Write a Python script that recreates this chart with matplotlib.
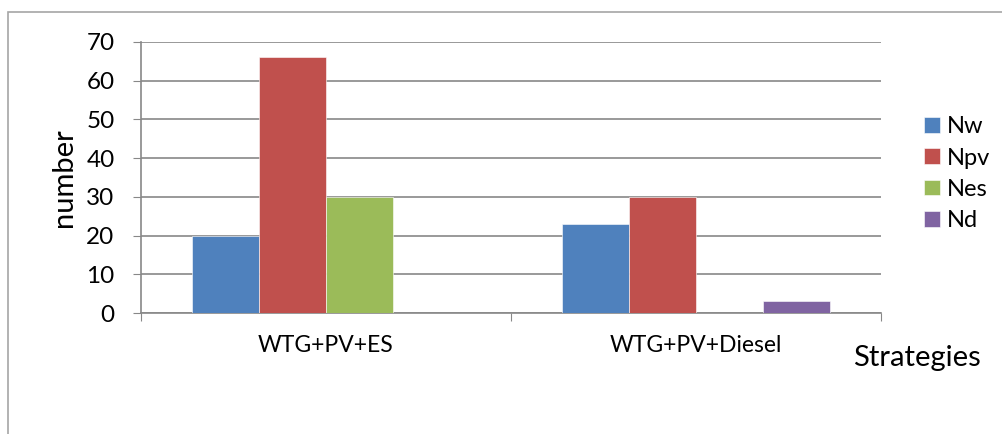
import numpy as np
import matplotlib
matplotlib.use("Agg")
import matplotlib.pyplot as plt
from matplotlib.patches import Rectangle

strategies = ["WTG+PV+ES", "WTG+PV+Diesel"]
series = ["Nw", "Npv", "Nes", "Nd"]
nw = [20, 23]
npv = [66, 30]
nes = [30, 0]
nd = [0, 3]
colors = ["#4f81bd", "#c0504d", "#9bbb59", "#8064a2"]
yticks = list(range(0, 80, 10))

plt.rcParams['font.family'] = ['Lato', 'DejaVu Sans']

fig = plt.figure(figsize=(10.03, 4.34), dpi=100)
fig.patches.append(Rectangle((8 / 1003, -0.1), 1.2, (434 - 12) / 434 + 0.1,
                             transform=fig.transFigure, fill=False,
                             edgecolor="#a6a6a6", linewidth=1.2))
ax = fig.add_axes([141 / 1003, 121 / 434, 740 / 1003, 271 / 434])

x = np.arange(len(strategies))
w = 0.181
for i, (name, vals) in enumerate(zip(series, [nw, npv, nes, nd])):
    ax.bar(x + (i - 1.5) * w, vals, w, color=colors[i], label=name,
           edgecolor="white", linewidth=0.4, zorder=3)

ax.set_xlim(-0.5, 1.5)
ax.set_ylim(0, 70)
ax.set_yticks(yticks)
ax.set_xticks([-0.5, 0.5, 1.5])
ax.set_xticklabels([])
ax.set_xticks(x, minor=True)
ax.set_xticklabels(strategies, minor=True, fontsize=16.5)
ax.tick_params(axis="x", which="minor", length=0, pad=16)
ax.tick_params(axis="x", which="major", length=6, direction="out", color="#888888")
ax.tick_params(axis="y", length=6, direction="out", color="#888888", labelsize=17.5, pad=13)
ax.grid(axis="y", color="#888888", linewidth=1.2, zorder=0)
for s in ["top", "right"]:
    ax.spines[s].set_visible(False)
for s in ["left", "bottom"]:
    ax.spines[s].set_color("#888888")
    ax.spines[s].set_linewidth(1.2)

ax.set_ylabel("number", fontsize=21)
ax.yaxis.set_label_coords(-0.087, 0.5)
fig.text(853 / 1003, 1 - 358 / 434, "Strategies", fontsize=21, va="center")

ax.legend(loc="center left", bbox_to_anchor=(1.03, 0.514), frameon=False,
          fontsize=17, handlelength=0.65, handleheight=0.65,
          labelspacing=0.43, handletextpad=0.3)

fig.savefig("out.png", dpi=100)
